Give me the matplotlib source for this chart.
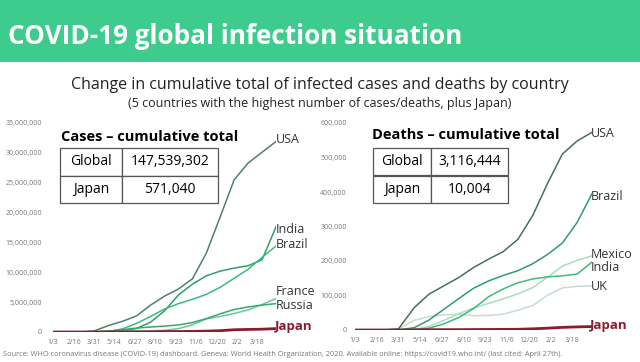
import numpy as np
import matplotlib.pyplot as plt
from matplotlib.ticker import FuncFormatter

plt.rcParams['font.family'] = ['Open Sans', 'DejaVu Sans']

# day offsets from 1/3/2020
days = [0, 60, 88, 120, 150, 180, 210, 240, 270, 300, 330, 360, 390, 420, 450, 480]
tick_days = np.arange(0, 441, 44)
tick_labels = ['1/3', '2/16', '3/31', '5/14', '6/27', '8/10', '9/23', '11/6', '12/20', '2/2', '3/18']

# cumulative cases (millions)
cases_usa = [0, 0, 0.16, 1.1, 1.8, 2.7, 4.5, 6.0, 7.2, 8.9, 13.2, 19.3, 25.5, 28.3, 30.1, 31.9]
cases_india = [0, 0, 0.001, 0.037, 0.19, 0.6, 1.64, 3.54, 6.2, 8.0, 9.4, 10.2, 10.7, 11.1, 12.1, 17.6]
cases_brazil = [0, 0, 0.005, 0.1, 0.53, 1.45, 2.6, 3.85, 4.75, 5.47, 6.3, 7.5, 9.0, 10.5, 12.5, 14.4]
cases_france = [0, 0, 0.05, 0.13, 0.15, 0.165, 0.19, 0.28, 0.57, 1.2, 2.2, 2.6, 3.1, 3.7, 4.6, 5.6]
cases_russia = [0, 0, 0.002, 0.12, 0.41, 0.65, 0.83, 0.99, 1.18, 1.58, 2.24, 3.05, 3.77, 4.2, 4.5, 4.76]
cases_japan = [0, 0, 0.002, 0.014, 0.017, 0.019, 0.033, 0.067, 0.083, 0.099, 0.147, 0.22, 0.38, 0.43, 0.47, 0.57]

# cumulative deaths (thousands)
deaths_usa = [0, 0, 3.2, 65, 104, 128, 152, 181, 205, 227, 263, 332, 425, 510, 548, 573]
deaths_brazil = [0, 0, 0.16, 6.8, 29, 60, 91, 121, 142, 158, 172, 192, 219, 252, 312, 395]
deaths_mexico = [0, 0, 0.03, 2.2, 10, 28, 47, 64, 77, 90, 105, 123, 153, 185, 202, 215]
deaths_india = [0, 0, 0.03, 1.2, 5.4, 17.8, 36, 62, 96, 119, 137, 148, 154, 157, 162, 197]
deaths_uk = [0, 0, 2.4, 28, 39, 43.9, 46, 41.5, 42, 45.7, 57.5, 71, 101, 122, 126.7, 127.5]
deaths_japan = [0, 0, 0.06, 0.5, 0.89, 0.97, 1.0, 1.26, 1.56, 1.72, 2.08, 3.4, 5.3, 7.6, 9.0, 10.0]

W, H = 640, 362
fig = plt.figure(figsize=(6.4, 3.62), dpi=100)
fig.patch.set_facecolor('white')

# green banner
banner = fig.add_axes([0, 1 - 62 / H, 1, 62 / H])
banner.set_facecolor('#3ecc8e')
banner.set_xticks([])
banner.set_yticks([])
for s in banner.spines.values():
    s.set_visible(False)
fig.text(8 / W, 1 - 37 / H, 'COVID-19 global infection situation', color='white',
         fontsize=18.8, fontweight='bold', va='center', ha='left')

fig.text(0.5, 1 - 85 / H, 'Change in cumulative total of infected cases and deaths by country',
         fontsize=11.5, ha='center', va='center', color='#222222')
fig.text(0.5, 1 - 103 / H, '(5 countries with the highest number of cases/deaths, plus Japan)',
         fontsize=9, ha='center', va='center', color='#222222')
fig.text(3 / W, 1 - 354 / H,
         'Source: WHO coronavirus disease (COVID-19) dashboard. Geneva: World Health Organization, 2020. '
         'Available online: https://covid19.who.int/ (last cited: April 27th).',
         fontsize=5.3, color='#777777', ha='left', va='center')

def style(ax, ymax):
    ax.set_xlim(0, 480)
    ax.set_ylim(0, ymax)
    for s in ax.spines.values():
        s.set_visible(False)
    ax.set_xticks(tick_days)
    ax.set_xticklabels(tick_labels)
    ax.tick_params(length=0, labelsize=5, labelcolor='#777777', pad=5)
    ax.yaxis.set_major_formatter(FuncFormatter(lambda v, p: f'{int(v):,}'))

def style_table(t):
    t.auto_set_font_size(False)
    for (r, c), cell in t.get_celld().items():
        cell.set_fontsize(10)
        cell.set_edgecolor('#555555')
        cell.set_linewidth(0.9)
        if c == 1:
            cell._loc = 'right'
            cell.PAD = 0.05

lab = dict(fontsize=9, va='center', ha='left', color='#333333', clip_on=False)
jlab = dict(fontsize=9.5, fontweight='bold', color='#8b1c30', va='center', ha='left', clip_on=False)

# ---- cases ----
ax1 = fig.add_axes([53 / W, 1 - 332 / H, 223 / W, 209 / H])
style(ax1, 35e6)
ax1.set_yticks(np.arange(0, 35e6 + 1, 5e6))
ax1.tick_params(axis='y', pad=8)
M = 1e6
ax1.plot(days, np.array(cases_usa) * M, color='#4f7f6f', lw=1.1)
ax1.plot(days, np.array(cases_india) * M, color='#2f9e6c', lw=1.1)
ax1.plot(days, np.array(cases_brazil) * M, color='#3cb97f', lw=1.1)
ax1.plot(days, np.array(cases_france) * M, color='#68c896', lw=1.1)
ax1.plot(days, np.array(cases_russia) * M, color='#3aa674', lw=1.1)
ax1.plot(days, np.array(cases_japan) * M, color='#8b1c30', lw=2)

ax1.text(480, 32.3 * M, 'USA', **lab)
ax1.text(480, 17.1 * M, 'India', **lab)
ax1.text(480, 14.6 * M, 'Brazil', **lab)
ax1.text(480, 6.7 * M, 'France', **lab)
ax1.text(480, 4.4 * M, 'Russia', **lab)
ax1.text(478, 1.0 * M, 'Japan', **jlab)

ax1.text(8 / 223, 1 - (137 - 123) / 209, 'Cases – cumulative total',
         transform=ax1.transAxes, fontsize=10.5, fontweight='bold', va='center', ha='left')
t1 = ax1.table(cellText=[['Global', '147,539,302'], ['Japan', '571,040']],
               colWidths=[62 / 223, 96 / 223], cellLoc='center',
               bbox=[7 / 223, 1 - (203 - 123) / 209, 158 / 223, 55 / 209])
style_table(t1)

# ---- deaths ----
ax2 = fig.add_axes([355 / W, 1 - 330 / H, 237 / W, 207 / H])
style(ax2, 600e3)
ax2.set_yticks(np.arange(0, 600e3 + 1, 100e3))
ax2.tick_params(axis='y', pad=6)
K = 1e3
ax2.plot(days, np.array(deaths_uk) * K, color='#c6ddd1', lw=1.1)
ax2.plot(days, np.array(deaths_mexico) * K, color='#a9dcc1', lw=1.1)
ax2.plot(days, np.array(deaths_india) * K, color='#3fb97f', lw=1.1)
ax2.plot(days, np.array(deaths_brazil) * K, color='#2e9c73', lw=1.1)
ax2.plot(days, np.array(deaths_usa) * K, color='#466f60', lw=1.1)
ax2.plot(days, np.array(deaths_japan) * K, color='#8b1c30', lw=2)

ax2.text(478, 571 * K, 'USA', **lab)
ax2.text(478, 386 * K, 'Brazil', **lab)
ax2.text(478, 219 * K, 'Mexico', **lab)
ax2.text(478, 182 * K, 'India', **lab)
ax2.text(478, 125 * K, 'UK', **lab)
ax2.text(476, 12 * K, 'Japan', **jlab)

ax2.text(17 / 237, 1 - (135 - 123) / 207, 'Deaths – cumulative total',
         transform=ax2.transAxes, fontsize=10.5, fontweight='bold', va='center', ha='left')
t2 = ax2.table(cellText=[['Global', '3,116,444'], ['Japan', '10,004']],
               colWidths=[58 / 237, 77 / 237], cellLoc='center',
               bbox=[18 / 237, 1 - (203 - 123) / 207, 135 / 237, 55 / 207])
style_table(t2)

fig.savefig('out.png', dpi=100)
